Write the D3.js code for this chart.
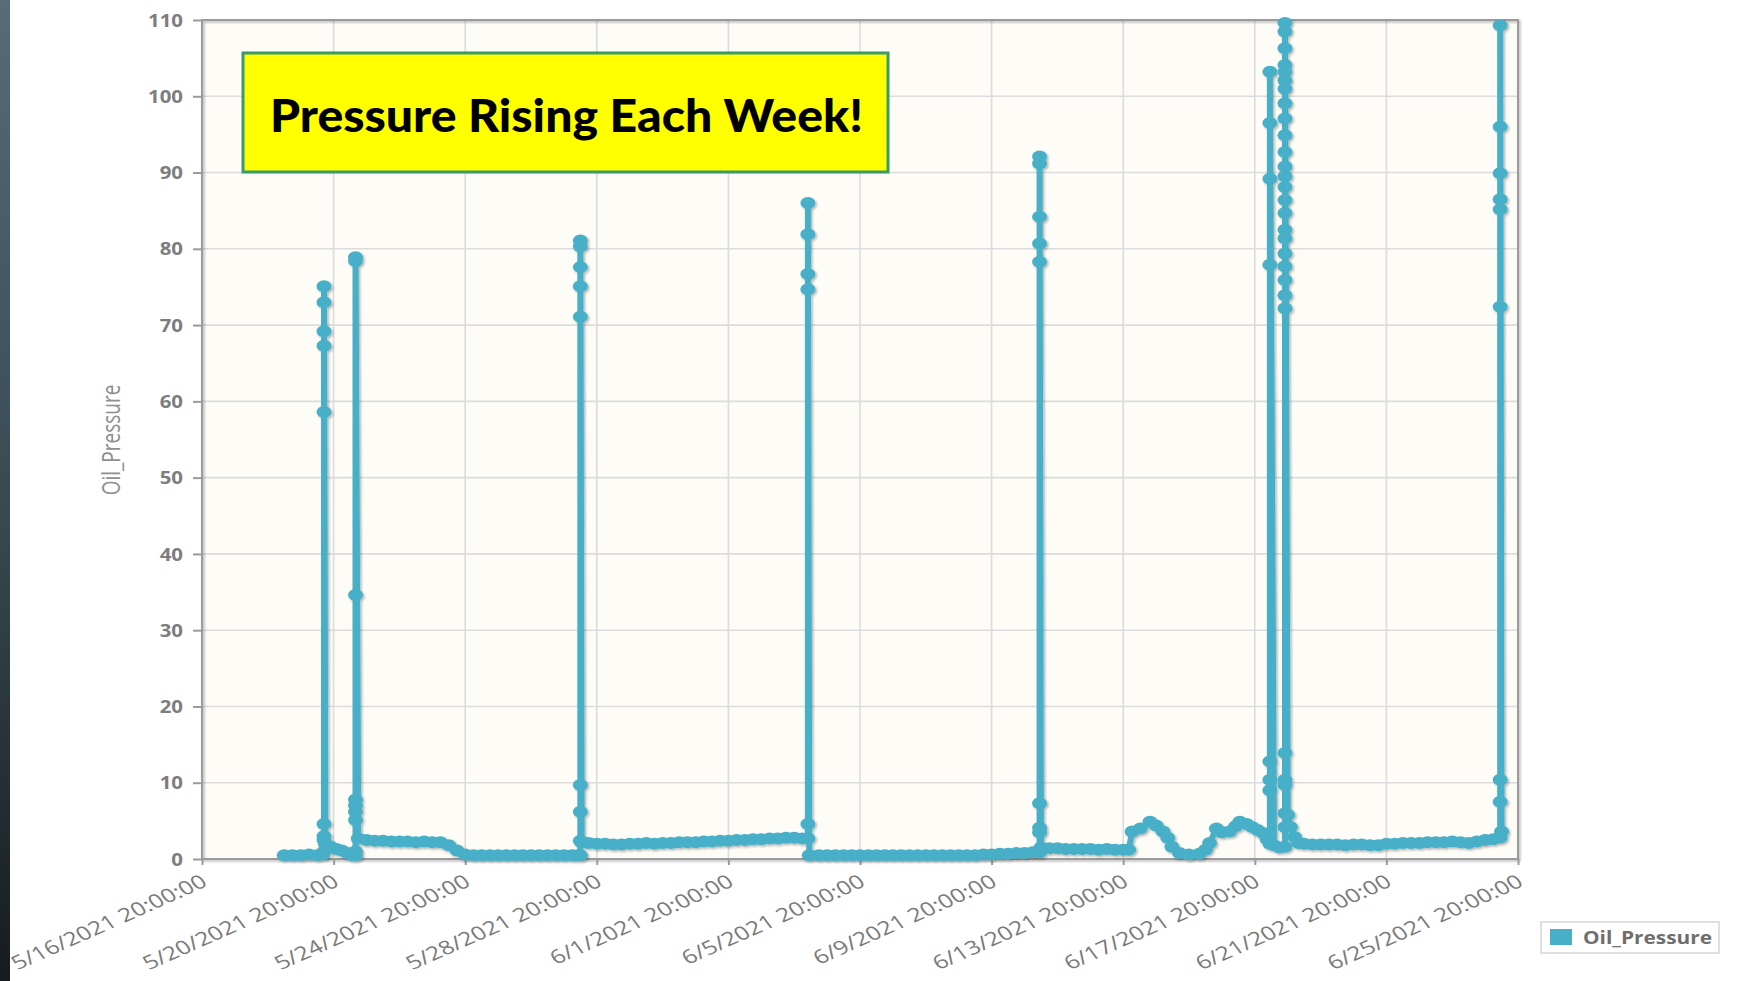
<!DOCTYPE html>
<html>
<head>
<meta charset="utf-8">
<script src="https://cdn.jsdelivr.net/npm/d3@7"></script>
<style>
  html, body { margin: 0; padding: 0; background: #ffffff; }
  svg { display: block; }
</style>
</head>
<body>
<svg id="chart" width="1764" height="981"></svg>
<script>
// ---- data ----
const tickLabels = [
  "5/16/2021 20:00:00", "5/20/2021 20:00:00", "5/24/2021 20:00:00", "5/28/2021 20:00:00",
  "6/1/2021 20:00:00", "6/5/2021 20:00:00", "6/9/2021 20:00:00", "6/13/2021 20:00:00",
  "6/17/2021 20:00:00", "6/21/2021 20:00:00", "6/25/2021 20:00:00"
];
const yTicks = [0, 10, 20, 30, 40, 50, 60, 70, 80, 90, 100, 110];
const seriesName = "Oil_Pressure";
const calloutText = "Pressure Rising Each Week!";

// slow baseline readings between the pumping events
const baseStamps = [
  "05-19 08:00", "05-19 14:00", "05-19 20:00", "05-20 02:00", "05-20 08:00", "05-20 12:00",
  "05-20 14:00", "05-20 18:00", "05-20 22:00", "05-21 02:00", "05-21 06:00", "05-21 10:00",
  "05-21 14:00", "05-21 20:00", "05-22 02:00", "05-22 08:00", "05-22 14:00", "05-22 20:00",
  "05-23 02:00", "05-23 08:00", "05-23 14:00", "05-23 20:00", "05-24 02:00", "05-24 08:00",
  "05-24 14:00", "05-24 20:00",
  "05-25 02:00", "05-25 08:00", "05-25 14:00", "05-25 20:00", "05-26 02:00", "05-26 08:00",
  "05-26 14:00", "05-26 20:00", "05-27 02:00", "05-27 08:00", "05-27 14:00", "05-27 20:00",
  "05-28 02:00", "05-28 06:00",
  "05-28 09:00", "05-28 14:00", "05-28 20:00",
  "05-29 02:00", "05-29 08:00", "05-29 14:00", "05-29 20:00", "05-30 02:00", "05-30 08:00",
  "05-30 14:00", "05-30 20:00", "05-31 02:00", "05-31 08:00", "05-31 14:00", "05-31 20:00",
  "06-01 02:00", "06-01 08:00", "06-01 14:00", "06-01 20:00", "06-02 02:00", "06-02 08:00",
  "06-02 14:00", "06-02 20:00", "06-03 02:00", "06-03 08:00", "06-03 14:00", "06-03 20:00",
  "06-04 02:00",
  "06-04 07:00", "06-04 14:00", "06-04 20:00",
  "06-05 02:00", "06-05 08:00", "06-05 14:00", "06-05 20:00", "06-06 02:00", "06-06 08:00",
  "06-06 14:00", "06-06 20:00", "06-07 02:00", "06-07 08:00", "06-07 14:00", "06-07 20:00",
  "06-08 02:00", "06-08 08:00", "06-08 14:00", "06-08 20:00", "06-09 02:00", "06-09 08:00",
  "06-09 14:00", "06-09 20:00", "06-10 02:00", "06-10 08:00", "06-10 14:00", "06-10 20:00",
  "06-11 02:00",
  "06-11 08:00", "06-11 14:00", "06-11 20:00", "06-12 02:00", "06-12 08:00", "06-12 14:00",
  "06-12 20:00", "06-13 02:00", "06-13 08:00", "06-13 14:00", "06-13 20:00", "06-14 00:00",
  "06-14 02:30", "06-14 08:30", "06-14 15:30", "06-14 20:00", "06-15 01:00", "06-15 04:30",
  "06-15 07:30", "06-15 13:00", "06-15 20:00", "06-16 03:30", "06-16 08:00", "06-16 11:00",
  "06-16 16:00", "06-16 20:00", "06-17 01:30", "06-17 06:00", "06-17 09:00", "06-17 14:00",
  "06-17 18:00", "06-17 22:00", "06-18 02:00", "06-18 05:00",
  "06-18 10:00", "06-18 14:00",
  "06-18 20:00", "06-18 22:00", "06-19 01:00", "06-19 04:00",
  "06-19 08:00", "06-19 14:00", "06-19 20:00", "06-20 02:00", "06-20 08:00", "06-20 14:00",
  "06-20 20:00", "06-21 02:00", "06-21 08:00", "06-21 14:00", "06-21 20:00", "06-22 02:00",
  "06-22 08:00", "06-22 14:00", "06-22 20:00", "06-23 02:00", "06-23 08:00", "06-23 14:00",
  "06-23 20:00", "06-24 02:00", "06-24 08:00", "06-24 14:00", "06-24 20:00", "06-25 02:00",
  "06-25 08:00"
];
const baseValues = [
  0.5, 0.5, 0.5, 0.6, 0.5, 0.6,
  2.0, 1.6, 1.3, 1.1, 0.8, 0.5,
  2.7, 2.5, 2.4, 2.4, 2.3, 2.3,
  2.3, 2.2, 2.3, 2.2, 2.2, 1.8,
  1.1, 0.6,
  0.5, 0.5, 0.5, 0.5, 0.5, 0.5,
  0.5, 0.5, 0.5, 0.5, 0.5, 0.5,
  0.5, 0.5,
  2.2, 2.1, 2.0,
  2.0, 1.9, 1.9, 2.0, 2.0, 2.1,
  2.0, 2.1, 2.1, 2.2, 2.2, 2.2,
  2.3, 2.3, 2.4, 2.4, 2.5, 2.5,
  2.6, 2.6, 2.7, 2.7, 2.8, 2.8,
  2.7,
  0.5, 0.5, 0.5,
  0.5, 0.5, 0.5, 0.5, 0.5, 0.5,
  0.5, 0.5, 0.5, 0.5, 0.5, 0.5,
  0.5, 0.5, 0.5, 0.5, 0.5, 0.5,
  0.6, 0.6, 0.7, 0.7, 0.8, 0.8,
  0.9,
  1.5, 1.4, 1.4, 1.3, 1.3, 1.3,
  1.3, 1.2, 1.3, 1.2, 1.2, 1.2,
  3.6, 4.0, 4.9, 4.4, 3.6, 2.8,
  1.6, 0.8, 0.6, 0.7, 1.2, 2.1,
  4.0, 3.5, 3.6, 4.3, 4.9, 4.6,
  4.2, 3.8, 3.4, 2.6,
  1.8, 1.5,
  5.8, 4.2, 2.9, 2.1,
  2.0, 1.9, 1.9, 1.9, 1.9, 1.8,
  1.9, 1.9, 1.8, 1.8, 2.0, 2.0,
  2.1, 2.1, 2.1, 2.2, 2.2, 2.2,
  2.3, 2.2, 2.1, 2.3, 2.5, 2.6,
  3.6
];

// pressure-up events: every reading logged during the spike
const spikeStamps = [
  "05-20 13:00", "05-21 12:00", "05-28 08:00", "06-04 06:00",
  "06-11 07:00", "06-18 07:00", "06-18 18:00", "06-25 07:00"
];
const spikeReadings = [
  [1.0, 2.5, 3.0, 4.6, 58.6, 67.3, 69.2, 73.0, 75.1],
  [0.5, 1.0, 5.1, 6.2, 7.0, 7.8, 34.6, 78.4, 78.9],
  [0.5, 2.4, 6.2, 9.7, 71.1, 75.1, 77.6, 80.3, 81.1],
  [2.7, 4.6, 74.7, 76.7, 81.9, 86.0],
  [0.9, 3.5, 4.1, 7.3, 78.3, 80.7, 84.2, 91.2, 92.1],
  [2.0, 9.0, 10.4, 12.8, 77.9, 89.2, 96.5, 103.2],
  [1.6, 4.2, 6.0, 9.7, 10.4, 13.9, 72.2, 73.9, 75.9, 77.7, 79.4, 81.4, 82.5, 84.7, 86.4,
   88.1, 89.5, 90.8, 92.7, 94.9, 97.1, 99.1, 101.0, 102.1, 103.2, 104.1, 106.3, 108.5, 109.6],
  [2.8, 7.5, 10.4, 72.4, 85.2, 86.5, 89.9, 96.0, 109.3]
];

// ---- setup ----
const W = 1764, H = 981;
const plot = { left: 202, right: 1518, top: 20, bottom: 859 };
const lineColor = "#47b0c8";

const parseTick = d3.timeParse("%m/%d/%Y %H:%M:%S");
const parseStamp = d3.timeParse("%Y-%m-%d %H:%M");
const tickDates = tickLabels.map(parseTick);

// merge baseline + spike readings in time order (sort is stable)
let points = baseStamps.map((s, i) => ({ t: parseStamp("2021-" + s), v: baseValues[i] }));
spikeStamps.forEach((s, i) => {
    const t = parseStamp("2021-" + s);
    spikeReadings[i].forEach(v => points.push({ t: t, v: v }));
});
points.sort((a, b) => a.t - b.t);

const x = d3.scaleTime()
    .domain([tickDates[0], tickDates[tickDates.length - 1]])
    .range([plot.left, plot.right]);
const y = d3.scaleLinear().domain([0, 110]).range([plot.bottom, plot.top]);

const svg = d3.select("#chart");
const defs = svg.append("defs");

const edge = defs.append("linearGradient").attr("id", "edge")
    .attr("x1", 0).attr("y1", 0).attr("x2", 0).attr("y2", 1);
edge.append("stop").attr("offset", "0%").attr("stop-color", "#566c79");
edge.append("stop").attr("offset", "55%").attr("stop-color", "#37474f");
edge.append("stop").attr("offset", "100%").attr("stop-color", "#161b1f");

const shadow = defs.append("filter").attr("id", "shadow")
    .attr("x", "-5%").attr("y", "-5%").attr("width", "110%").attr("height", "110%");
shadow.append("feDropShadow").attr("dx", 1.5).attr("dy", 1.5)
    .attr("stdDeviation", 1.2).attr("flood-color", "#000").attr("flood-opacity", 0.3);

// dark slide edge on the left
svg.append("rect").attr("x", 0).attr("y", 0).attr("width", 10).attr("height", H)
    .attr("fill", "url(#edge)");

// plot background
svg.append("rect")
    .attr("x", plot.left).attr("y", plot.top)
    .attr("width", plot.right - plot.left).attr("height", plot.bottom - plot.top)
    .attr("fill", "#fdfcf7");

// grid
const grid = svg.append("g").attr("stroke", "#dcdcdc").attr("stroke-width", 1.6);
grid.selectAll("line.h").data(yTicks).join("line").attr("class", "h")
    .attr("x1", plot.left).attr("x2", plot.right)
    .attr("y1", d => y(d)).attr("y2", d => y(d));
grid.selectAll("line.v").data(tickDates).join("line").attr("class", "v")
    .attr("x1", d => x(d)).attr("x2", d => x(d))
    .attr("y1", plot.top).attr("y2", plot.bottom);

// frame
svg.append("rect")
    .attr("x", plot.left).attr("y", plot.top)
    .attr("width", plot.right - plot.left).attr("height", plot.bottom - plot.top)
    .attr("fill", "none").attr("stroke", "#9b9b9b").attr("stroke-width", 2)
    .attr("filter", "url(#shadow)");

// y axis
const yAxis = svg.append("g")
    .attr("transform", `translate(${plot.left},0)`)
    .call(d3.axisLeft(y).tickValues(yTicks).tickSize(9).tickSizeOuter(0));
yAxis.select(".domain").remove();
yAxis.selectAll(".tick line").attr("stroke", "#9b9b9b").attr("stroke-width", 2);
yAxis.selectAll(".tick text")
    .attr("x", -19 / 1.2)
    .attr("dy", "0.36em")
    .attr("transform", "scale(1.2,1)")
    .attr("fill", "#7d7d7d")
    .style("font", "bold 17px 'Open Sans', sans-serif");

// x axis
const xAxis = svg.append("g")
    .attr("transform", `translate(0,${plot.bottom})`)
    .call(d3.axisBottom(x).tickValues(tickDates).tickSize(6).tickSizeOuter(0)
        .tickFormat((d, i) => tickLabels[i]));
xAxis.select(".domain").remove();
xAxis.selectAll(".tick line").attr("stroke", "#9b9b9b").attr("stroke-width", 2);
xAxis.selectAll(".tick text")
    .attr("x", 0).attr("y", 0).attr("dy", "0.75em")
    .attr("text-anchor", "end")
    .attr("transform", "translate(-3,14) scale(1.3,1) rotate(-30)")
    .attr("fill", "#7a7a7a")
    .style("font", "19px 'Open Sans', sans-serif");

// axis title
svg.append("text")
    .attr("transform", "translate(110,440) scale(1.3,1) rotate(-90)")
    .attr("text-anchor", "middle")
    .attr("dominant-baseline", "central")
    .attr("fill", "#8f8f8f")
    .style("font", "19px 'Open Sans', sans-serif")
    .text(seriesName);

// series
const line = d3.line().x(d => x(d.t)).y(d => y(d.v));
const series = svg.append("g").attr("filter", "url(#shadow)");
series.append("path")
    .datum(points)
    .attr("d", line)
    .attr("fill", "none")
    .attr("stroke", lineColor)
    .attr("stroke-width", 6)
    .attr("stroke-linejoin", "round")
    .attr("stroke-linecap", "round");
series.selectAll("ellipse").data(points).join("ellipse")
    .attr("cx", d => x(d.t)).attr("cy", d => y(d.v))
    .attr("rx", 7.5).attr("ry", 6)
    .attr("fill", lineColor);

// callout box
svg.append("rect")
    .attr("x", 243).attr("y", 53).attr("width", 645).attr("height", 119)
    .attr("fill", "#ffff00").attr("stroke", "#3a9a6b").attr("stroke-width", 3);
svg.append("text")
    .attr("x", 270).attr("y", 132)
    .attr("textLength", 593).attr("lengthAdjust", "spacingAndGlyphs")
    .attr("fill", "#000")
    .style("font", "900 46px Lato, 'Open Sans', sans-serif")
    .text(calloutText);

// legend
const legend = svg.append("g").attr("transform", "translate(1541,922)");
legend.append("rect").attr("width", 178).attr("height", 31)
    .attr("fill", "#fff").attr("stroke", "#e0e0e0").attr("stroke-width", 2);
legend.append("rect").attr("x", 9).attr("y", 7).attr("width", 22).attr("height", 16)
    .attr("fill", lineColor);
legend.append("text").attr("x", 42).attr("y", 22)
    .attr("textLength", 129).attr("lengthAdjust", "spacingAndGlyphs")
    .attr("fill", "#6e6e6e")
    .style("font", "bold 17px 'Open Sans', sans-serif")
    .text(seriesName);
</script>
</body>
</html>
